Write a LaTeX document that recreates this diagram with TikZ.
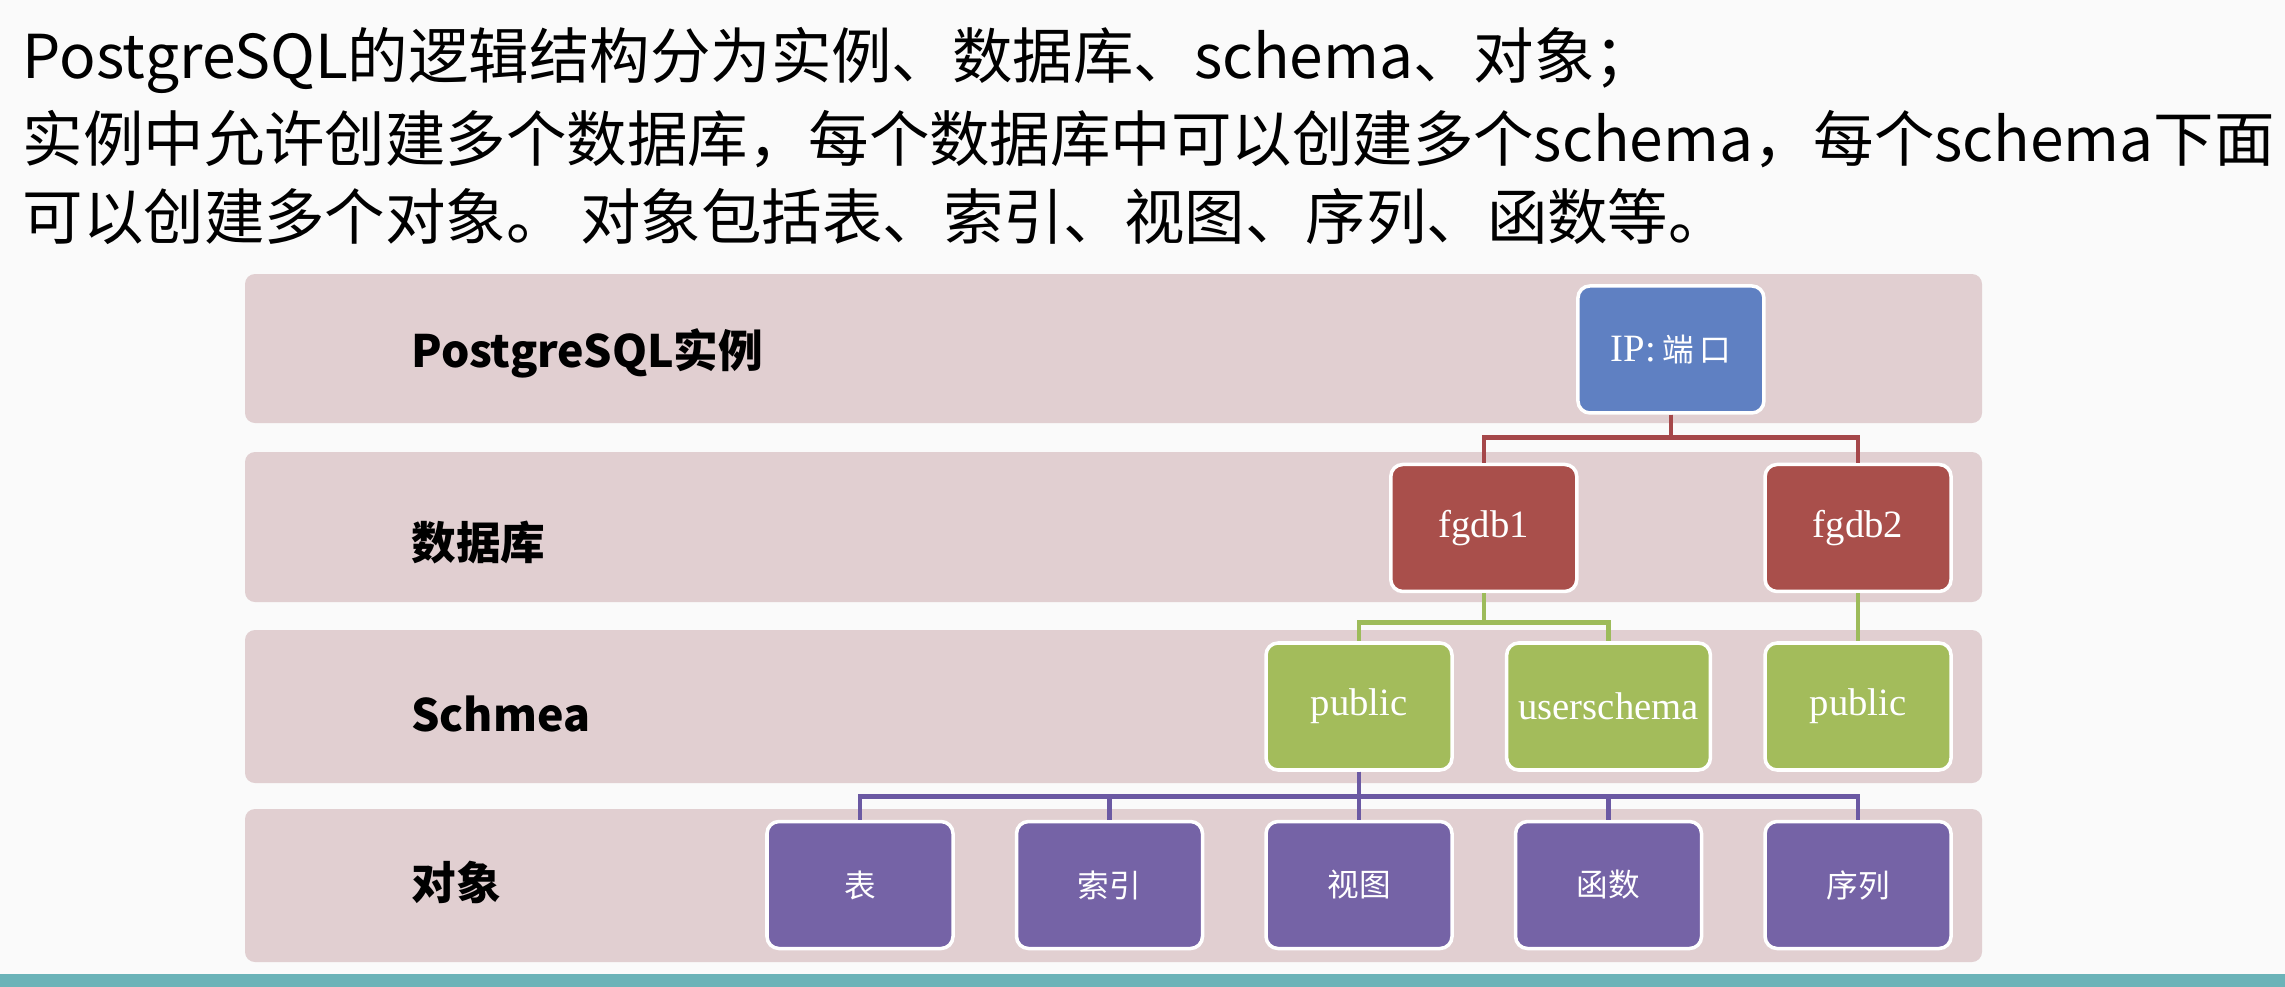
\documentclass[tikz,border=0pt]{standalone}
\usepackage{fontspec}
\usepackage{xcolor}
\usepackage{tikz}
\usetikzlibrary{positioning,calc}

\newfontfamily\cjk{Noto Sans CJK SC}
\newfontfamily\lserif{Liberation Serif}

\definecolor{pagebg}{HTML}{FAFAFA}
\definecolor{bandfill}{HTML}{E1CFD1}
\definecolor{ipblue}{HTML}{5F80C2}
\definecolor{dbred}{HTML}{A94F4B}
\definecolor{schgreen}{HTML}{A3BC5B}
\definecolor{objpurple}{HTML}{7563A6}
\definecolor{redln}{HTML}{A5474A}
\definecolor{greenln}{HTML}{9DBB5A}
\definecolor{purpleln}{HTML}{6B59A3}
\definecolor{tealbar}{HTML}{6BB3B8}

\begin{document}
\begin{tikzpicture}[
      node distance=0.48cm and 0.60cm,
      band/.style={fill=bandfill, rounded corners=0.1cm},
      bandlabel/.style={anchor=west, font=\cjk\fontsize{12.7}{15}\selectfont\bfseries},
      title/.style={anchor=base west, inner sep=0pt, font=\cjk\fontsize{17.2}{20}\selectfont},
      box/.style={draw=white, line width=1pt, rounded corners=0.12cm,
                  minimum width=1.86cm, minimum height=1.27cm, align=center,
                  text=white, font=\lserif\fontsize{11}{13}\selectfont},
      ipbox/.style={box, fill=ipblue},
      dbbox/.style={box, fill=dbred},
      schbox/.style={box, fill=schgreen},
      objbox/.style={box, fill=objpurple, font=\cjk\fontsize{9}{11}\selectfont},
      rline/.style={draw=redln, line width=1.3pt},
      gline/.style={draw=greenln, line width=1.3pt},
      pline/.style={draw=purpleln, line width=1.3pt},
    ]
    \fill[pagebg] (0,0) rectangle (22.85,-9.87);
    \useasboundingbox (0,0) rectangle (22.85,-9.87);
    \fill[tealbar] (0,-9.74) rectangle (22.85,-9.87);

    % text above the diagram
    \node[title] (line1) at (0.22,-0.78)
      {PostgreSQL的逻辑结构分为实例、数据库、schema、对象；};
    \node[title] (line2) at (0.22,-1.61)
      {实例中允许创建多个数据库，每个数据库中可以创建多个schema，每个schema下面};
    \node[title] (line3) at (0.22,-2.39)
      {可以创建多个对象。 对象包括表、索引、视图、序列、函数等。};

    % bands
    \fill[band] (2.45,-2.74) rectangle (19.82,-4.23);
    \fill[band] (2.45,-4.52) rectangle (19.82,-6.02);
    \fill[band] (2.45,-6.30) rectangle (19.82,-7.83);
    \fill[band] (2.45,-8.09) rectangle (19.82,-9.62);
    \node[bandlabel] (lbinst) at (3.99,-3.53) {PostgreSQL实例};
    \node[bandlabel] (lbdb) at (3.99,-5.43) {数据库};
    \node[bandlabel] (lbsch) at (3.99,-7.14) {Schmea};
    \node[bandlabel] (lbobj) at (3.99,-8.82) {对象};

    % objects
    \node[objbox] (tbl) at (8.60,-8.85) {表};
    \node[objbox, right=of tbl] (idx) {索引};
    \node[objbox, right=of idx] (view) {视图};
    \node[objbox, right=of view] (func) {函数};
    \node[objbox, right=of func] (seq) {序列};

    % schemas
    \node[schbox, above=of view] (pub1) {public};
    \node[schbox, above=of func] (usr) {userschema};
    \node[schbox, above=of seq] (pub2) {public};

    % databases and instance
    \node[dbbox, anchor=south] (fgdb1) at ($($(pub1.north)!0.5!(usr.north)$)+(0,0.48cm)$) {fgdb1};
    \node[dbbox, above=of pub2] (fgdb2) {fgdb2};
    \node[ipbox, anchor=south] (ip) at ($($(fgdb1.north)!0.5!(fgdb2.north)$)+(0,0.48cm)$)
      {IP:\,{\cjk\fontsize{9}{11}\selectfont 端\,口}};

    % connectors
    \draw[rline] (ip.south) -- ++(0,-0.23cm) -| (fgdb1.north);
    \draw[rline] (ip.south) -- ++(0,-0.23cm) -| (fgdb2.north);
    \draw[gline] (fgdb1.south) -- ++(0,-0.29cm) -| (pub1.north);
    \draw[gline] (fgdb1.south) -- ++(0,-0.29cm) -| (usr.north);
    \draw[gline] (fgdb2.south) -- (pub2.north);
    \foreach \o in {tbl,idx,view,func,seq}
      \draw[pline] (pub1.south) -- ++(0,-0.25cm) -| (\o.north);
  \end{tikzpicture}
\end{document}
